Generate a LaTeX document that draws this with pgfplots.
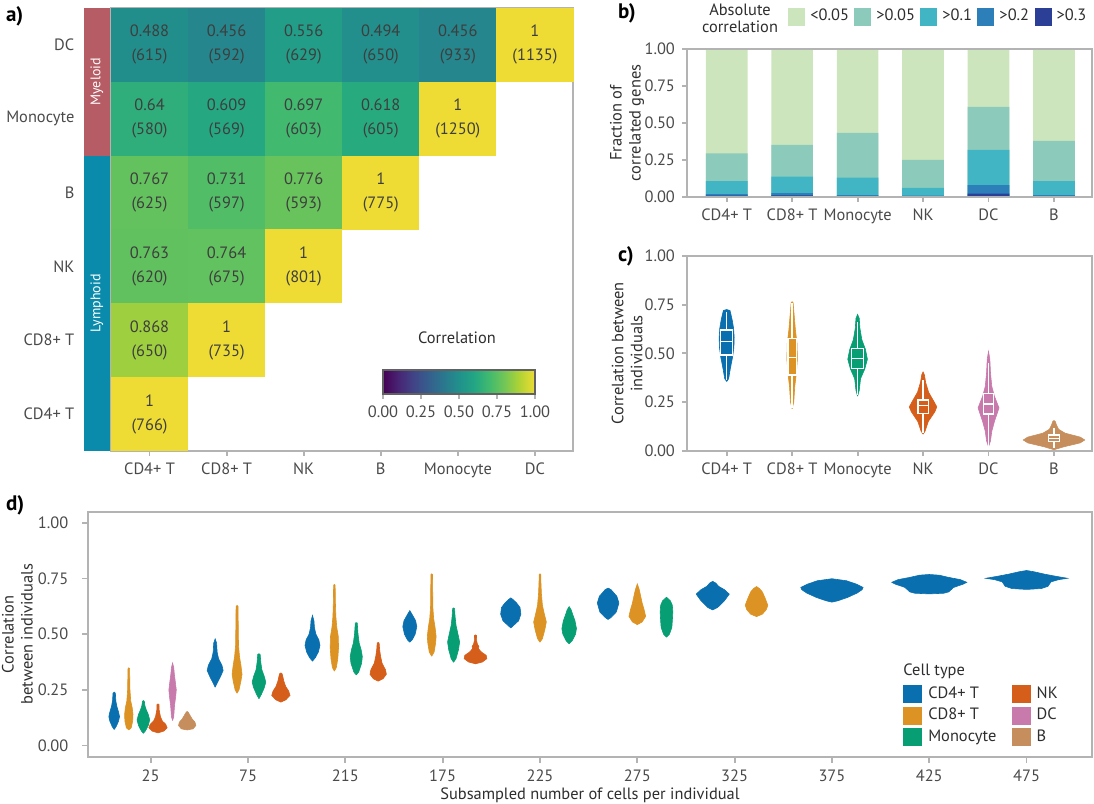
\documentclass[border=0pt]{standalone}
\usepackage{fontspec}
\setmainfont{PT Sans}
\usepackage{pgfplots}
\pgfplotsset{compat=1.18}
\usepgfplotslibrary{statistics}
\pgfkeys{/pgf/number format/assume math mode=true}

\definecolor{frame}{HTML}{B3B3B3}
\definecolor{txt}{HTML}{4A4A4A}
\definecolor{ltxt}{HTML}{2E2E2E}
\definecolor{ctxt}{HTML}{3E3E3E}
\definecolor{cdfour}{HTML}{0A6FAF}
\definecolor{cdeight}{HTML}{DC9323}
\definecolor{mono}{HTML}{089E74}
\definecolor{nk}{HTML}{D55E1B}
\definecolor{dc}{HTML}{C97AAD}
\definecolor{bcell}{HTML}{C78E5D}
\definecolor{myel}{HTML}{B65C64}
\definecolor{lymph}{HTML}{0B8BAB}
\definecolor{ca}{HTML}{CCE5BC}
\definecolor{cb}{HTML}{8CCBBB}
\definecolor{cc}{HTML}{42B5C4}
\definecolor{cd}{HTML}{2C7FB9}
\definecolor{ce}{HTML}{2C3F97}

\newcommand\tfont{\fontsize{8.2}{9.8}\selectfont}
\newcommand\lfont{\fontsize{8.2}{9.5}\selectfont}

\pgfdeclareplotmark{cell}{\pgfpathrectangle{\pgfpoint{-19.3pt}{-18.5pt}}{\pgfpoint{38.6pt}{37pt}}\pgfusepathqfill}

% violin: centre, colour, list of y/halfwidth (first and last halfwidth 0)
\newcommand\vio[3]{%
  \gdef\vR{}\gdef\vL{}%
  \foreach \yy/\ww in {#3}{%
    \pgfmathsetmacro\xa{#1+\ww}\pgfmathsetmacro\xb{#1-\ww}%
    \xdef\vR{\vR (\xa,\yy)}\xdef\vL{(\xb,\yy) \vL}}%
  \edef\vtmp{\noexpand\addplot[forget plot, fill=#2, draw=#2, line width=0.3pt] coordinates {\vR\space\vL};}%
  \vtmp}
% box: position, lower whisker, q1, median, q3, upper whisker, box width
\newcommand\bxp[7]{\addplot[forget plot, draw=white, fill=none, line width=0.7pt, mark=none,
  boxplot/draw direction=y,
  boxplot prepared={draw position=#1, lower whisker=#2, lower quartile=#3, median=#4,
  upper quartile=#5, upper whisker=#6, box extend=#7, whisker extend=0}] coordinates {};}

\pgfplotsset{
  panel/.style={
    scale only axis,
    axis line style={draw=frame, line width=1pt},
    tick style={draw=frame, line width=0.9pt},
    tick align=outside, major tick length=2.5pt,
    tick pos=left,
    tick label style={font=\tfont, text=txt},
    label style={font=\lfont, text=ltxt},
    yticklabel style={/pgf/number format/fixed, /pgf/number format/fixed zerofill, /pgf/number format/precision=2},
  },
  colormap={mutedviridis}{rgb255=(68,1,84) rgb255=(72,36,117) rgb255=(65,68,135) rgb255=(53,95,141) rgb255=(42,120,142) rgb255=(33,145,140) rgb255=(34,166,131) rgb255=(66,186,110) rgb255=(116,198,86) rgb255=(178,211,52) rgb255=(238,220,52)},
}

\begin{document}
\begin{tikzpicture}
\path[use as bounding box] (0pt,0pt) rectangle (547pt,402pt);

% ---------------- a) heatmap
\begin{axis}[panel,
  at={(55.5pt,176.5pt)}, anchor=south west, width=231.25pt, height=221.5pt,
  xmin=-0.5, xmax=5.5, ymin=-0.5, ymax=5.5, clip=false, axis on top,
  xtick={0,...,5}, xticklabels={CD4+ T,CD8+ T,NK,B,Monocyte,DC},
  ytick={0,...,5}, yticklabels={CD4+ T,CD8+ T,NK,B,Monocyte,DC},
  ytick style={draw=none}, yticklabel style={xshift=-12.3pt},
  colormap name=mutedviridis, point meta min=0, point meta max=1,
  colorbar horizontal,
  colorbar style={
    at={(parent axis.south west)}, anchor=south west, xshift=136pt, yshift=37pt,
    scale only axis, width=76pt, height=12pt,
    xtick={0,0.25,0.5,0.75,1},
    xticklabel={\pgfmathprintnumber[fixed,fixed zerofill,precision=2]{\tick}},
    xticklabel style={font=\tfont, text=txt},
    xtick pos=left, xticklabel pos=left,
    tick align=outside, major tick length=2.5pt,
    xtick style={draw=frame, line width=0.9pt},
    axis line style={draw=black!62, line width=1pt},
  }]
\fill[myel] (axis cs:-0.85,3.5) rectangle (axis cs:-0.513,5.5);
\fill[lymph] (axis cs:-0.85,-0.5) rectangle (axis cs:-0.513,3.5);
\node[rotate=90, text=white, font=\fontsize{7}{8}\selectfont] at (axis cs:-0.682,4.5) {Myeloid};
\node[rotate=90, text=white, font=\fontsize{7}{8}\selectfont] at (axis cs:-0.682,1.5) {Lymphoid};
\addplot[scatter, only marks, mark=cell, point meta=explicit,
  scatter/use mapped color={fill=mapped color, draw=none}] table[x=x, y=y, meta=v] {
x y v n
0 5 0.488 615
1 5 0.456 592
2 5 0.556 629
3 5 0.494 650
4 5 0.456 933
5 5 1 1135
0 4 0.64 580
1 4 0.609 569
2 4 0.697 603
3 4 0.618 605
4 4 1 1250
0 3 0.767 625
1 3 0.731 597
2 3 0.776 593
3 3 1 775
0 2 0.763 620
1 2 0.764 675
2 2 1 801
0 1 0.868 650
1 1 1 735
0 0 1 766
};
\addplot[only marks, mark=none, point meta=explicit,
  visualization depends on={value \thisrow{n}\as\cnt},
  nodes near coords={\pgfmathprintnumber[precision=3]{\pgfplotspointmeta}\\(\cnt)},
  nodes near coords align={anchor=center},
  every node near coord/.append style={font=\fontsize{8.2}{12}\selectfont, text=ctxt, align=center, anchor=center}]
  table[x=x, y=y, meta=v] {
x y v n
0 5 0.488 615
1 5 0.456 592
2 5 0.556 629
3 5 0.494 650
4 5 0.456 933
5 5 1 1135
0 4 0.64 580
1 4 0.609 569
2 4 0.697 603
3 4 0.618 605
4 4 1 1250
0 3 0.767 625
1 3 0.731 597
2 3 0.776 593
3 3 1 775
0 2 0.763 620
1 2 0.764 675
2 2 1 801
0 1 0.868 650
1 1 1 735
0 0 1 766
};
\end{axis}

% ---------------- b) fraction of correlated genes (cumulative heights)
\begin{axis}[panel,
  at={(343.5pt,303.65pt)}, anchor=south west, width=202.25pt, height=73.75pt,
  axis on top,
  xmin=0.394, xmax=6.573, ymin=0, ymax=1,
  xtick={1,...,6}, xticklabels={CD4+ T,CD8+ T,Monocyte,NK,DC,B},
  ytick={0,0.25,0.5,0.75,1},
  ylabel={Fraction of\\correlated genes},
  ylabel style={align=center, at={(axis description cs:-0.148,0.5)}, anchor=center},
  legend columns=5,
  legend image code/.code={\fill[#1] (0pt,-4.5pt) rectangle (8.5pt,4.5pt);},
  legend style={draw=none, fill=none, at={(axis description cs:0.2497,1.2203)}, anchor=west,
    inner sep=0pt, font=\tfont, text=ltxt,
    nodes={inner sep=1.5pt, text height=6pt, text depth=1.8pt},
    /tikz/every odd column/.append style={column sep=1pt},
    /tikz/every even column/.append style={column sep=1.2pt}},
]
\addplot[ybar, bar width=20.85pt, bar shift=0pt, fill=ca, draw=none]
  coordinates {(1,1) (2,1) (3,1) (4,1) (5,1) (6,1)};
\addlegendentry{<0.05}
\addplot[ybar, bar width=20.85pt, bar shift=0pt, fill=cb, draw=none]
  coordinates {(1,0.294) (2,0.351) (3,0.432) (4,0.249) (5,0.609) (6,0.378)};
\addlegendentry{>0.05}
\addplot[ybar, bar width=20.85pt, bar shift=0pt, fill=cc, draw=none]
  coordinates {(1,0.106) (2,0.136) (3,0.129) (4,0.059) (5,0.317) (6,0.106)};
\addlegendentry{>0.1}
\addplot[ybar, bar width=20.85pt, bar shift=0pt, fill=cd, draw=none]
  coordinates {(1,0.018) (2,0.025) (3,0.011) (4,0.007) (5,0.079) (6,0.011)};
\addlegendentry{>0.2}
\addplot[ybar, bar width=20.85pt, bar shift=0pt, fill=ce, draw=none]
  coordinates {(1,0.007) (2,0.009) (3,0.004) (4,0.002) (5,0.020) (6,0.003)};
\addlegendentry{>0.3}
\end{axis}

% ---------------- c) violins
\begin{axis}[panel,
  at={(343.5pt,176.65pt)}, anchor=south west, width=202.25pt, height=97.35pt,
  xmin=0.394, xmax=6.573, ymin=0, ymax=1,
  xtick={1,...,6}, xticklabels={CD4+ T,CD8+ T,Monocyte,NK,DC,B},
  ytick={0,0.25,0.5,0.75,1},
  ylabel={Correlation between\\individuals},
  ylabel style={align=center, at={(axis description cs:-0.148,0.5)}, anchor=center}]
\vio{1}{cdfour}{0.355/0, 0.37/0.03, 0.42/0.055, 0.48/0.09, 0.53/0.11, 0.58/0.115, 0.63/0.105, 0.67/0.085, 0.70/0.065, 0.72/0.05, 0.725/0}
\vio{2}{cdeight}{0.215/0, 0.25/0.025, 0.33/0.04, 0.40/0.065, 0.47/0.08, 0.55/0.075, 0.62/0.05, 0.70/0.03, 0.76/0.015, 0.765/0}
\vio{3}{mono}{0.28/0, 0.31/0.025, 0.37/0.045, 0.42/0.11, 0.47/0.15, 0.52/0.12, 0.57/0.065, 0.63/0.035, 0.68/0.025, 0.70/0}
\vio{4}{nk}{0.085/0, 0.10/0.03, 0.15/0.08, 0.20/0.18, 0.225/0.21, 0.25/0.17, 0.30/0.085, 0.35/0.04, 0.39/0.02, 0.405/0}
\vio{5}{dc}{0.02/0, 0.05/0.03, 0.10/0.05, 0.15/0.09, 0.22/0.16, 0.28/0.09, 0.33/0.05, 0.40/0.03, 0.47/0.02, 0.51/0}
\vio{6}{bcell}{0.005/0, 0.02/0.15, 0.04/0.40, 0.055/0.47, 0.07/0.40, 0.09/0.17, 0.11/0.07, 0.13/0.04, 0.15/0.02, 0.155/0}
\bxp{1}{0.363}{0.491}{0.56}{0.62}{0.714}{0.18}
\bxp{2}{0.217}{0.389}{0.479}{0.577}{0.757}{0.13}
\bxp{3}{0.286}{0.423}{0.474}{0.526}{0.663}{0.18}
\bxp{4}{0.089}{0.192}{0.231}{0.26}{0.363}{0.16}
\bxp{5}{0.02}{0.188}{0.24}{0.295}{0.449}{0.15}
\bxp{6}{0.012}{0.046}{0.063}{0.08}{0.115}{0.17}
\end{axis}

% ---------------- d) subsampling
\begin{axis}[panel,
  at={(44.15pt,23.65pt)}, anchor=south west, width=501.7pt, height=122.5pt,
  xmin=0.359, xmax=10.669, ymin=-0.05, ymax=1.05, major tick length=3pt,
  xtick={1,...,10}, xticklabels={25,75,215,175,225,275,325,375,425,475},
  ytick={0,0.25,0.5,0.75,1}, yticklabel style={xshift=-3.5pt},
  xlabel={Subsampled number of cells per individual},
  xlabel style={at={(axis description cs:0.5,-0.156)}, anchor=center},
  ylabel={Correlation\\between individuals},
  ylabel style={align=center, at={(axis description cs:-0.0706,0.5)}, anchor=center},
  legend columns=2, legend cell align=left,
  legend image code/.code={\fill[#1] (0pt,-4.5pt) rectangle (9.3pt,4.5pt);},
  legend style={draw=none, fill=none, at={(axis description cs:0.812,0.302)}, anchor=north west,
    inner sep=0pt, font=\tfont, text=ltxt, row sep=0pt,
    nodes={inner sep=1.5pt, text height=6pt, text depth=1.8pt},
    /tikz/every odd column/.append style={column sep=1.6pt},
    /tikz/every even column/.append style={column sep=6.3pt}}]
\addlegendimage{fill=cdfour, draw=none}\addlegendentry{CD4+ T}
\addlegendimage{fill=nk, draw=none}\addlegendentry{NK}
\addlegendimage{fill=cdeight, draw=none}\addlegendentry{CD8+ T}
\addlegendimage{fill=dc, draw=none}\addlegendentry{DC}
\addlegendimage{fill=mono, draw=none}\addlegendentry{Monocyte}
\addlegendimage{fill=bcell, draw=none}\addlegendentry{B}
% 25
\vio{0.625}{cdfour}{0.072/0, 0.085/0.02, 0.11/0.045, 0.13/0.055, 0.15/0.045, 0.175/0.028, 0.20/0.017, 0.235/0.012, 0.24/0}
\vio{0.775}{cdeight}{0.07/0, 0.08/0.025, 0.11/0.04, 0.14/0.043, 0.17/0.035, 0.20/0.02, 0.25/0.012, 0.30/0.01, 0.345/0.008, 0.349/0}
\vio{0.925}{mono}{0.055/0, 0.065/0.02, 0.09/0.05, 0.115/0.065, 0.14/0.05, 0.16/0.03, 0.18/0.015, 0.198/0.01, 0.202/0}
\vio{1.075}{nk}{0.057/0, 0.065/0.06, 0.08/0.094, 0.095/0.08, 0.11/0.045, 0.13/0.025, 0.16/0.012, 0.184/0.01, 0.187/0}
\vio{1.225}{dc}{0.112/0, 0.13/0.012, 0.18/0.02, 0.22/0.032, 0.25/0.038, 0.28/0.03, 0.32/0.018, 0.35/0.012, 0.371/0}
\vio{1.375}{bcell}{0.07/0, 0.075/0.06, 0.09/0.089, 0.105/0.08, 0.12/0.05, 0.135/0.03, 0.150/0.01, 0.153/0}
% 75
\vio{1.6625}{cdfour}{0.262/0, 0.28/0.02, 0.31/0.055, 0.337/0.082, 0.36/0.07, 0.39/0.035, 0.42/0.02, 0.46/0.015, 0.479/0}
\vio{1.8875}{cdeight}{0.235/0, 0.25/0.02, 0.29/0.04, 0.32/0.051, 0.36/0.04, 0.40/0.025, 0.45/0.015, 0.55/0.012, 0.625/0.01, 0.629/0}
\vio{2.1125}{mono}{0.21/0, 0.23/0.025, 0.26/0.055, 0.285/0.07, 0.31/0.055, 0.34/0.03, 0.37/0.02, 0.41/0.012, 0.412/0}
\vio{2.3375}{nk}{0.195/0, 0.205/0.05, 0.225/0.094, 0.245/0.08, 0.265/0.05, 0.29/0.03, 0.31/0.02, 0.323/0.012, 0.326/0}
% 215
\vio{2.6625}{cdfour}{0.379/0, 0.395/0.03, 0.42/0.06, 0.45/0.077, 0.475/0.065, 0.50/0.035, 0.53/0.02, 0.56/0.015, 0.584/0}
\vio{2.8875}{cdeight}{0.334/0, 0.35/0.02, 0.39/0.035, 0.44/0.043, 0.49/0.04, 0.53/0.025, 0.58/0.015, 0.65/0.01, 0.72/0.008, 0.723/0}
\vio{3.1125}{mono}{0.317/0, 0.33/0.025, 0.37/0.055, 0.40/0.062, 0.43/0.05, 0.46/0.03, 0.50/0.018, 0.55/0.01, 0.552/0}
\vio{3.3375}{nk}{0.289/0, 0.30/0.05, 0.32/0.084, 0.34/0.075, 0.37/0.04, 0.40/0.025, 0.43/0.015, 0.46/0.01, 0.463/0}
% 175
\vio{3.6625}{cdfour}{0.464/0, 0.475/0.025, 0.50/0.055, 0.534/0.072, 0.56/0.06, 0.58/0.035, 0.595/0.015, 0.606/0}
\vio{3.8875}{cdeight}{0.401/0, 0.42/0.025, 0.46/0.04, 0.49/0.045, 0.53/0.035, 0.57/0.02, 0.62/0.012, 0.70/0.01, 0.768/0.008, 0.771/0}
\vio{4.1125}{mono}{0.374/0, 0.39/0.025, 0.43/0.05, 0.465/0.062, 0.50/0.045, 0.54/0.025, 0.58/0.015, 0.615/0.01, 0.618/0}
\vio{4.3375}{nk}{0.367/0, 0.375/0.07, 0.39/0.116, 0.405/0.11, 0.42/0.06, 0.435/0.03, 0.445/0.035, 0.455/0.02, 0.47/0.012, 0.494/0.01, 0.497/0}
% 225
\vio{4.7}{cdfour}{0.528/0, 0.54/0.03, 0.56/0.08, 0.59/0.104, 0.62/0.095, 0.64/0.06, 0.655/0.025, 0.663/0}
\vio{5.0}{cdeight}{0.464/0, 0.48/0.025, 0.52/0.05, 0.555/0.065, 0.59/0.045, 0.63/0.025, 0.68/0.015, 0.73/0.01, 0.768/0.008, 0.771/0}
\vio{5.3}{mono}{0.457/0, 0.47/0.03, 0.50/0.065, 0.525/0.075, 0.56/0.06, 0.59/0.035, 0.61/0.02, 0.624/0}
% 275
\vio{5.7}{cdfour}{0.566/0, 0.575/0.03, 0.60/0.085, 0.64/0.111, 0.67/0.09, 0.69/0.05, 0.70/0.03, 0.707/0}
\vio{6.0}{cdeight}{0.543/0, 0.555/0.05, 0.58/0.086, 0.61/0.07, 0.64/0.05, 0.67/0.035, 0.70/0.02, 0.726/0}
\vio{6.3}{mono}{0.487/0, 0.50/0.03, 0.53/0.055, 0.56/0.06, 0.60/0.065, 0.63/0.06, 0.65/0.04, 0.666/0}
% 325
\vio{6.775}{cdfour}{0.609/0, 0.62/0.05, 0.65/0.12, 0.68/0.17, 0.70/0.12, 0.715/0.06, 0.73/0.03, 0.737/0}
\vio{7.225}{cdeight}{0.579/0, 0.59/0.06, 0.61/0.1, 0.63/0.116, 0.66/0.09, 0.69/0.06, 0.705/0.03, 0.714/0}
% 375, 425, 475
\vio{8}{cdfour}{0.644/0, 0.65/0.06, 0.665/0.16, 0.685/0.26, 0.70/0.31, 0.71/0.32, 0.725/0.25, 0.74/0.15, 0.749/0}
\vio{9}{cdfour}{0.681/0, 0.684/0.15, 0.69/0.2, 0.71/0.25, 0.725/0.35, 0.733/0.385, 0.745/0.32, 0.755/0.2, 0.765/0.1, 0.768/0}
\vio{10}{cdfour}{0.701/0, 0.705/0.15, 0.715/0.22, 0.735/0.25, 0.745/0.33, 0.751/0.42, 0.76/0.3, 0.77/0.18, 0.78/0.08, 0.786/0}
\end{axis}

% ---------------- panel letters and legend titles
\node[anchor=west, font=\fontsize{10.5}{12}\selectfont\bfseries, text=black] at (-0.5pt,394pt) {a)};
\node[anchor=west, font=\fontsize{10.5}{12}\selectfont\bfseries, text=black] at (305.5pt,395.5pt) {b)};
\node[anchor=west, font=\fontsize{10.5}{12}\selectfont\bfseries, text=black] at (305.5pt,274pt) {c)};
\node[anchor=west, font=\fontsize{10.5}{12}\selectfont\bfseries, text=black] at (-0.5pt,149.5pt) {d)};
\node[align=center, font=\fontsize{8.2}{8.7}\selectfont, text=ltxt] at (370pt,393pt) {Absolute\\correlation};
\node[font=\lfont, text=ltxt] at (228.5pt,233pt) {Correlation};
\node[anchor=west, inner sep=0pt, font=\lfont, text=ltxt] at (451.5pt,66.15pt) {Cell type};
\end{tikzpicture}
\end{document}
